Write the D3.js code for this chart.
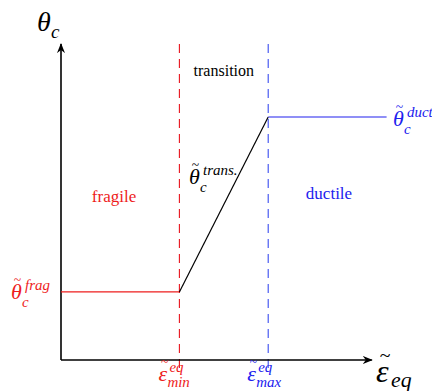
<!DOCTYPE html>
<html>
<head>
<meta charset="utf-8">
<script src="https://cdn.jsdelivr.net/npm/d3@7"></script>
<style>
body { margin: 0; background: #fff; }
</style>
</head>
<body>
<svg id="chart" width="432" height="391" font-family="'Liberation Serif', 'DejaVu Serif', serif"></svg>
<script>
// schematic values (arbitrary units)
var epsTicks = [0.4, 0.7];          // eps_min, eps_max
var plateauX = [0, 0.4, 0.7, 1.1];  // x breakpoints of theta curve
var plateauY = [0.28, 0.28, 1, 1];  // theta values at those breakpoints
var axisMax = {x: 1.05, y: 1.3};

var red = "#ee1c1c", blue = "#2121ee";

var svg = d3.select("#chart");
var x = d3.scaleLinear().domain([0, 1]).range([61, 357]);
var y = d3.scaleLinear().domain([0, 1]).range([360, 117]);

var defs = svg.append("defs");
defs.append("marker").attr("id", "arr")
	.attr("viewBox", "0 0 10 10").attr("refX", 9).attr("refY", 5)
	.attr("markerWidth", 10).attr("markerHeight", 10)
	.attr("markerUnits", "userSpaceOnUse")
	.attr("orient", "auto")
	.append("path").attr("d", "M0,1 L10,5 L0,9 L3,5 Z").attr("fill", "#000");

// dashed verticals
svg.selectAll("line.v").data(epsTicks).enter().append("line")
	.attr("x1", function(d){ return x(d); }).attr("x2", function(d){ return x(d); })
	.attr("y1", y(axisMax.y)).attr("y2", 372)
	.attr("stroke", function(d, i){ return i == 0 ? "#e8141e" : "#3a4cf0"; })
	.attr("stroke-width", 1.1)
	.attr("stroke-dasharray", "9,6");

// axes
svg.append("line").attr("x1", x(0)).attr("y1", y(0)).attr("x2", x(0)).attr("y2", y(axisMax.y))
	.attr("stroke", "#000").attr("stroke-width", 1.6).attr("marker-end", "url(#arr)");
svg.append("line").attr("x1", x(0)).attr("y1", y(0)).attr("x2", x(axisMax.x)).attr("y2", y(0))
	.attr("stroke", "#000").attr("stroke-width", 1.6).attr("marker-end", "url(#arr)");

// curve segments
var segColors = [red, "#000", blue];
for (var i = 0; i < plateauX.length - 1; i++) {
	svg.append("line")
		.attr("x1", x(plateauX[i])).attr("y1", y(plateauY[i]))
		.attr("x2", x(plateauX[i+1])).attr("y2", y(plateauY[i+1]))
		.attr("stroke", segColors[i]).attr("stroke-width", 1.2);
}

// one text per label: base, tilde, sup and sub as positioned tspans
function mathLabel(px, py, base, opts) {
	var fs = opts.size, small = fs * 0.68;
	var t = svg.append("text").attr("x", px).attr("y", py)
		.attr("font-style", "italic").attr("font-size", fs)
		.attr("fill", opts.color || "#000");
	t.append("tspan").text(base);
	if (opts.tilde) {
		t.append("tspan").attr("x", px + fs * 0.12).attr("y", py - fs * 0.62)
			.attr("font-style", "normal").attr("font-size", fs * 0.62).text("~");
	}
	var bw = opts.bw;
	if (opts.sup) {
		t.append("tspan").attr("x", px + bw).attr("y", py - fs * 0.4)
			.attr("font-size", small).text(opts.sup);
	}
	if (opts.sub) {
		t.append("tspan").attr("x", px + (opts.subDx || bw)).attr("y", py + (opts.subDy || fs * 0.3))
			.attr("font-size", small).text(opts.sub);
	}
	return t;
}

mathLabel(37, 31, "θ", {size: 28, bw: 14, sub: "c", subDy: 7});
mathLabel(376, 382, "ε", {size: 32, tilde: true, bw: 15, sub: "eq", subDy: 5});
mathLabel(11, 299, "θ", {size: 22, tilde: true, color: red, bw: 14, sup: "frag", sub: "c", subDx: 11, subDy: 8});
mathLabel(393, 126, "θ", {size: 22, tilde: true, color: blue, bw: 14, sup: "duct", sub: "c", subDx: 11, subDy: 8});
mathLabel(189, 184, "θ", {size: 22, tilde: true, bw: 14, sup: "trans.", sub: "c", subDx: 11, subDy: 8});

var epsLabels = ["min", "max"];
epsTicks.forEach(function(d, i) {
	mathLabel(x(d) - 21, 381, "ε", {size: 22, tilde: true, color: i == 0 ? red : blue,
		bw: 11, sup: "eq", sub: epsLabels[i], subDx: 9, subDy: 6});
});

svg.append("text").attr("x", (x(epsTicks[0]) + x(epsTicks[1])) / 2).attr("y", 76)
	.attr("text-anchor", "middle").attr("font-size", 16).text("transition");
svg.append("text").attr("x", 114).attr("y", 202)
	.attr("text-anchor", "middle").attr("font-size", 17).attr("fill", red).text("fragile");
svg.append("text").attr("x", 329).attr("y", 199)
	.attr("text-anchor", "middle").attr("font-size", 17).attr("fill", blue).text("ductile");
</script>
</body>
</html>
